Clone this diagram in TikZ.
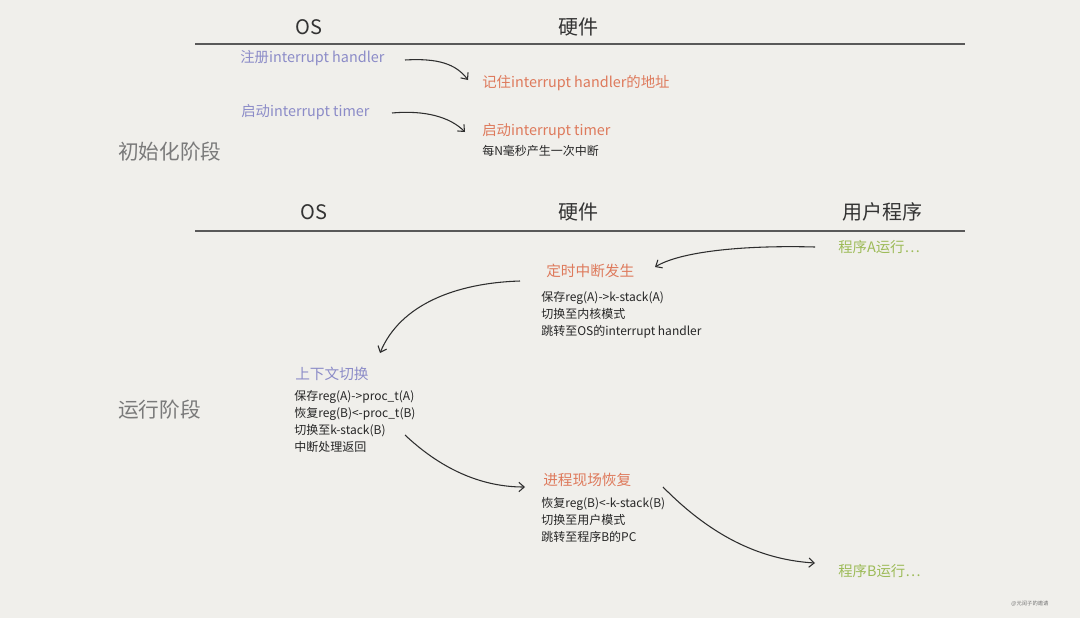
\documentclass[tikz,border=0pt]{standalone}
\usepackage{fontspec}
\setmainfont{Noto Sans CJK SC}
\usetikzlibrary{arrows.meta}
\definecolor{bgc}{HTML}{F0EFEB}
\definecolor{oscol}{HTML}{8C8CC8}
\definecolor{hwcol}{HTML}{DE7A5C}
\definecolor{usrcol}{HTML}{9DBB58}
\definecolor{stagecol}{HTML}{7A7A7A}
\definecolor{inkcol}{HTML}{2E2E2E}
\tikzset{
  hdr/.style={font=\fontsize{15}{18}\selectfont, text=black!80, inner sep=0},
  stagelbl/.style={font=\fontsize{15.5}{18}\selectfont, text=stagecol, anchor=west, inner sep=0},
  oslbl/.style={font=\fontsize{10.8}{13}\selectfont, text=oscol, anchor=west, inner sep=0},
  hwlbl/.style={font=\fontsize{10.8}{13}\selectfont, text=hwcol, anchor=west, inner sep=0},
  oshead/.style={font=\fontsize{11}{14}\selectfont, text=oscol, anchor=west, inner sep=0},
  hwhead/.style={font=\fontsize{11}{14}\selectfont, text=hwcol, anchor=west, inner sep=0},
  usrlbl/.style={font=\fontsize{10.8}{14}\selectfont, text=usrcol, anchor=west, inner sep=0},
  body/.style={font=\fontsize{9}{12.75}\selectfont, text=black!85, anchor=north west, align=left, inner sep=0},
  rule/.style={draw=black!65, line width=0.9pt},
  flow/.style={draw=inkcol, line width=0.8pt, -{Straight Barb[length=4pt,width=7pt]}},
}
\begin{document}
\begin{tikzpicture}[x=0.75pt,y=-0.75pt]
\fill[bgc] (0,0) rectangle (1080,618);
\useasboundingbox (0,0) rectangle (1080,618);

% ---- init phase ----
\node[hdr] (os1) at (309,27) {OS};
\node[hdr] (hw1) at (578,27) {硬件};
\coordinate (l1a) at (195,44);
\coordinate (l1b) at (965,44);
\draw[rule] (l1a) -- (l1b);

\node[oslbl] (reg) at (240,58) {注册interrupt handler};
\node[hwlbl] (rem) at (482,83) {记住interrupt handler的地址};
\node[oslbl] (st1) at (241,112) {启动interrupt timer};
\node[hwlbl] (st2) at (482,131) {启动interrupt timer};
\node[font=\fontsize{9}{11}\selectfont, text=black!85, anchor=west, inner sep=0] (every) at (482,151) {每N毫秒产生一次中断};
\node[stagelbl] (init) at (118,152) {初始化阶段};

\coordinate (a1s) at (405,60);
\coordinate (a1e) at (468,80);
\draw[flow] (a1s) .. controls (438,58) and (456,64) .. (a1e);
\coordinate (a2s) at (392,113);
\coordinate (a2e) at (465,132);
\draw[flow] (a2s) .. controls (425,110) and (450,117) .. (a2e);

% ---- run phase ----
\node[hdr] (os2) at (314,212) {OS};
\node[hdr] (hw2) at (578,212) {硬件};
\node[hdr] (usr) at (882,212) {用户程序};
\coordinate (l2a) at (195,231);
\coordinate (l2b) at (965,231);
\draw[rule] (l2a) -- (l2b);

\node[usrlbl] (pa) at (838,247) {程序A运行…};
\node[hwhead] (tint) at (546,271) {定时中断发生};
\node[body] (tbody) at (541,291) {保存reg(A)->k-stack(A)\\切换至内核模式\\跳转至OS的interrupt handler};
\node[oshead] (ctx) at (295,374) {上下文切换};
\node[body] (cbody) at (294,390) {保存reg(A)->proc\_t(A)\\恢复reg(B)<-proc\_t(B)\\切换至k-stack(B)\\中断处理返回};
\node[stagelbl] (run) at (118,410) {运行阶段};
\node[hwhead] (rest) at (543,480) {进程现场恢复};
\node[body] (rbody) at (541,497) {恢复reg(B)<-k-stack(B)\\切换至用户模式\\跳转至程序B的PC};
\node[usrlbl] (pb) at (838,571) {程序B运行…};

\coordinate (a3s) at (815,247);
\coordinate (a3e) at (655,267);
\draw[flow] (a3s) .. controls (740,245) and (680,252) .. (a3e);
\coordinate (a4s) at (520,281);
\coordinate (a4e) at (380,353);
\draw[flow] (a4s) .. controls (455,283) and (400,305) .. (a4e);
\coordinate (a5s) at (405,435);
\coordinate (a5e) at (525,487);
\draw[flow] (a5s) .. controls (440,468) and (480,487) .. (a5e);
\coordinate (a6s) at (663,487);
\coordinate (a6e) at (815,563);
\draw[flow] (a6s) .. controls (715,540) and (765,560) .. (a6e);

\node[font=\fontsize{4}{5}\selectfont, text=black!55, inner sep=0] (wm) at (1030,604) {@元闰子的邀请};
\end{tikzpicture}
\end{document}
